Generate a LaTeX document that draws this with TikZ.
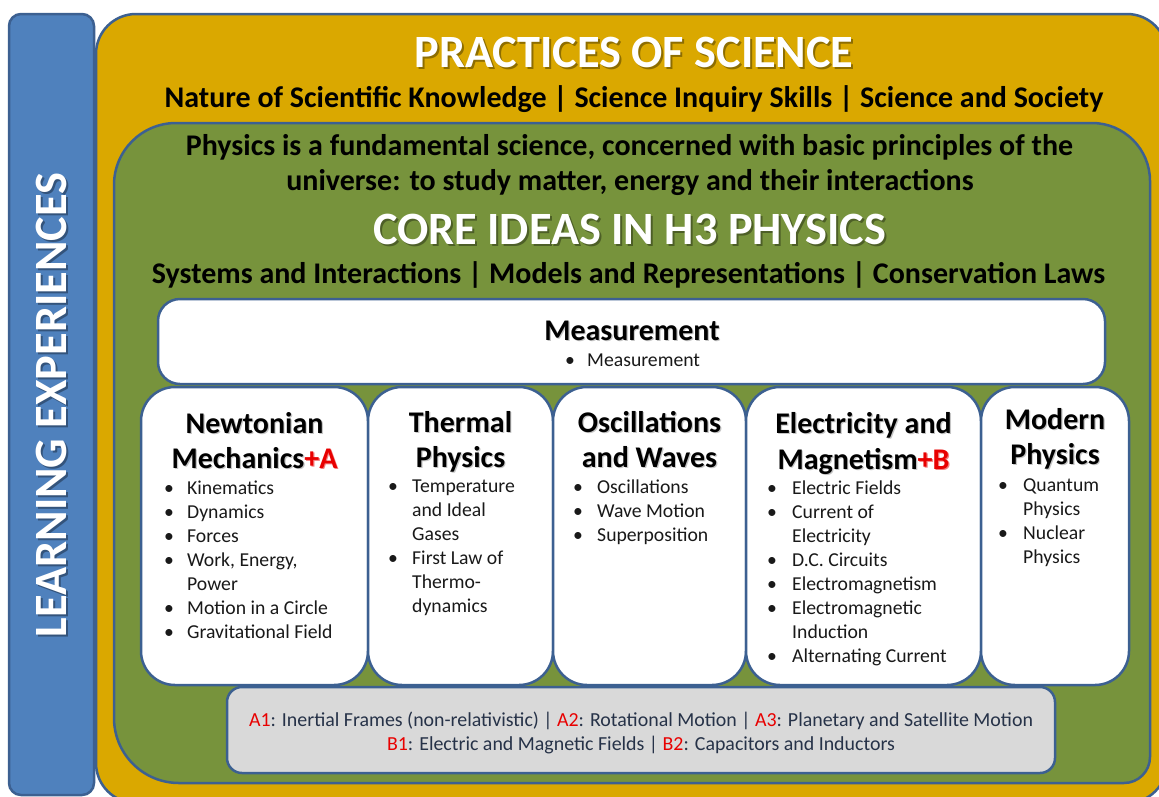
\documentclass[tikz,border=0pt]{standalone}
\usepackage{fontspec}
\setmainfont{Carlito}
\definecolor{lebg}{RGB}{79,129,189}
\definecolor{edge}{RGB}{60,96,145}
\definecolor{gold}{RGB}{218,168,0}
\definecolor{olive}{RGB}{119,147,60}
\definecolor{gbox}{RGB}{217,217,217}
\definecolor{redt}{RGB}{232,0,0}
\definecolor{slate}{RGB}{38,50,72}
\tikzset{
 frame/.style={draw=edge, line width=2.5pt},
 wbox/.style={frame, fill=white, rounded corners=34pt},
 big/.style={font=\fontsize{46.3}{50}\selectfont\bfseries, text=white, inner sep=0pt, anchor=base},
 bigsh/.style={big, text=black, opacity=0.35},
 mid/.style={font=\fontsize{30}{35}\selectfont\bfseries, text=black, inner sep=0pt, anchor=base},
 ttl/.style={font=\fontsize{30}{35}\selectfont\bfseries, text=black, inner sep=0pt, anchor=base},
 ttlsh/.style={ttl, text=black!45, opacity=0.5},
 body/.style={font=\fontsize{19.7}{24}\selectfont, text=black!90, inner sep=0pt, anchor=base west},
 note/.style={font=\fontsize{19.9}{24}\selectfont, text=slate, inner sep=0pt, anchor=base},
}
\newcommand\bitem[5]{\node[body,anchor=base] (#1-b) at (#2,#4) {•};\node[body] (#1) at (#3,#4) {#5};}
\newcommand\contline[4]{\node[body] (#1) at (#2,#3) {#4};}
\newcommand\ttlline[4]{\node[ttlsh] (#1-s) at (#2+1.2,#3+1.2) {#4};\node[ttl] (#1) at (#2,#3) {#4};}
\begin{document}
\begin{tikzpicture}[x=1pt,y=-1pt]
\useasboundingbox (0,0) rectangle (1159,796);
\clip (0,0) rectangle (1159,796);
\fill[white] (0,0) rectangle (1159,796);
% learning experiences bar
\path[frame, fill=lebg, rounded corners=12pt] (9,14) rectangle (94,795);
\node[bigsh, rotate=90] (le-s) at (68,407) {LEARNING EXPERIENCES};
\node[big, rotate=90] (le) at (66,405) {LEARNING EXPERIENCES};
% gold frame
\path[frame, fill=gold, rounded corners=40pt] (96,14) rectangle (1167,803);
\node[bigsh] (ps-s) at (636,69) {PRACTICES OF SCIENCE};
\node[big] (ps) at (634,67) {PRACTICES OF SCIENCE};
\node[mid] (nat) at (634,107) {Nature of Scientific Knowledge | Science Inquiry Skills | Science and Society};
% green frame
\path[frame, fill=olive] (114,400) [rounded corners=62pt] -- (114,123) -- (632,123) [rounded corners=58pt] -- (1150,123) -- (1150,450) [rounded corners=26pt] -- (1150,783) -- (632,783) [rounded corners=65pt] -- (114,783) -- cycle;
\node[mid] (phy1) at (629.5,155) {Physics is a fundamental science, concerned with basic principles of the};
\node[mid] (phy2) at (630,190) {universe: to study matter, energy and their interactions};
\node[bigsh] (core-s) at (631.5,246) {CORE IDEAS IN H3 PHYSICS};
\node[big] (core) at (629.5,244) {CORE IDEAS IN H3 PHYSICS};
\node[mid] (sys) at (628.5,283) {Systems and Interactions | Models and Representations | Conservation Laws};
% measurement
\path[wbox, rounded corners=22pt] (158,299) rectangle (1105,384);
\ttlline{meas}{632}{340}{Measurement}
\bitem{meas1}{570}{587}{366}{Measurement}
% topic boxes
\path[wbox] (141,387) rectangle (368,685);
\path[wbox] (368,387) rectangle (553,685);
\path[wbox] (553,387) rectangle (746,685);
\path[wbox] (746,387) rectangle (981,685);
\path[wbox] (981,387) rectangle (1129,685);
% Newtonian
\ttlline{nm1}{254.5}{433}{Newtonian}
\ttlline{nm2}{254.5}{468}{Mechanics\textcolor{redt}{+A}}
\bitem{n1}{169}{187}{494}{Kinematics}
\bitem{n2}{169}{187}{518}{Dynamics}
\bitem{n3}{169}{187}{542}{Forces}
\bitem{n4}{169}{187}{566}{Work, Energy,}
\contline{n4c}{187}{590}{Power}
\bitem{n5}{169}{187}{614}{Motion in a Circle}
\bitem{n6}{169}{187}{638}{Gravitational Field}
% Thermal
\ttlline{tp1}{460.5}{432}{Thermal}
\ttlline{tp2}{460.5}{467}{Physics}
\bitem{t1}{393}{412}{492}{Temperature}
\contline{t1c}{412}{516}{and Ideal}
\contline{t1d}{412}{540}{Gases}
\bitem{t2}{393}{412}{564}{First Law of}
\contline{t2c}{412}{588}{Thermo-}
\contline{t2d}{412}{612}{dynamics}
% Oscillations
\ttlline{ow1}{649.5}{432}{Oscillations}
\ttlline{ow2}{649.5}{467}{and Waves}
\bitem{o1}{578}{597}{493}{Oscillations}
\bitem{o2}{578}{597}{517}{Wave Motion}
\bitem{o3}{578}{597}{541}{Superposition}
% Electricity and Magnetism
\ttlline{em1}{863.5}{433}{Electricity and}
\ttlline{em2}{863.5}{469}{Magnetism\textcolor{redt}{+B}}
\bitem{e1}{772}{792}{494}{Electric Fields}
\bitem{e2}{772}{792}{518}{Current of}
\contline{e2c}{792}{542}{Electricity}
\bitem{e3}{772}{792}{566}{D.C. Circuits}
\bitem{e4}{772}{792}{590}{Electromagnetism}
\bitem{e5}{772}{792}{614}{Electromagnetic}
\contline{e5c}{792}{638}{Induction}
\bitem{e6}{772}{792}{662}{Alternating Current}
% Modern
\ttlline{mp1}{1055}{429}{Modern}
\ttlline{mp2}{1055}{464}{Physics}
\bitem{m1}{1003}{1023}{491}{Quantum}
\contline{m1c}{1023}{515}{Physics}
\bitem{m2}{1003}{1023}{539}{Nuclear}
\contline{m2c}{1023}{563}{Physics}
% notes box
\path[frame, fill=gbox, rounded corners=15pt] (227,687) rectangle (1055,773);
\node[note] (na) at (641,726) {\textcolor{redt}{A1}: Inertial Frames (non-relativistic) | \textcolor{redt}{A2}: Rotational Motion | \textcolor{redt}{A3}: Planetary and Satellite Motion};
\node[note] (nb) at (641,750) {\textcolor{redt}{B1}: Electric and Magnetic Fields | \textcolor{redt}{B2}: Capacitors and Inductors};
\end{tikzpicture}
\end{document}
